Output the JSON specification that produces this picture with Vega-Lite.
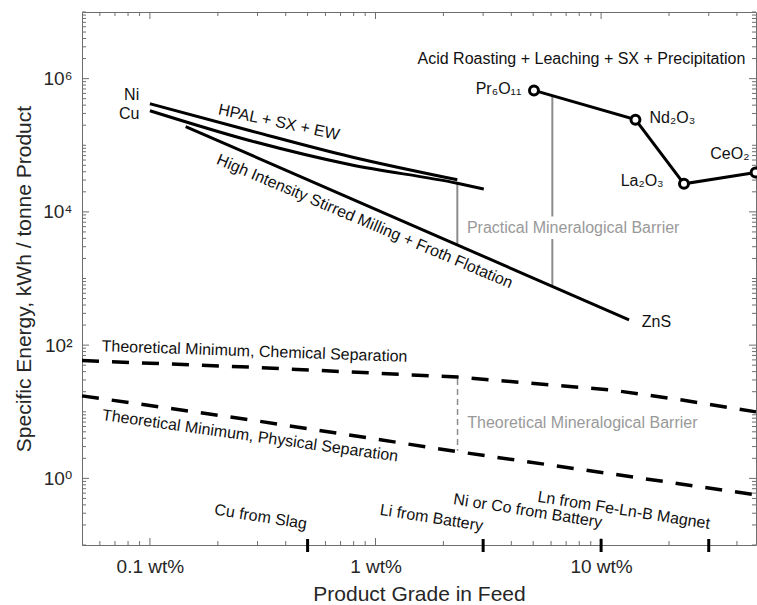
{
  "$schema": "https://vega.github.io/schema/vega-lite/v6.json",
  "width": 674,
  "height": 533,
  "autosize": {"type": "none"},
  "padding": {"left": 82, "top": 12, "right": 1, "bottom": 60},
  "background": "white",
  "config": {
    "font": "Liberation Sans",
    "view": {"stroke": null},
    "axis": {
      "domainColor": "#6e6e6e",
      "labelColor": "#262626",
      "titleColor": "#262626",
      "labelFont": "Liberation Sans, DejaVu Sans",
      "titleFont": "Liberation Sans",
      "labelFontSize": 19,
      "titleFontSize": 21,
      "titleFontWeight": "normal",
      "grid": false,
      "ticks": false,
      "labelOverlap": false,
      "labelFlush": false
    }
  },
  "datasets": {
    "curves": [
      {"s": "Ni", "x": 0.1, "y": 420000},
      {"s": "Ni", "x": 0.279, "y": 165000},
      {"s": "Ni", "x": 0.776, "y": 67200},
      {"s": "Ni", "x": 2.305, "y": 30300},
      {"s": "Cu", "x": 0.1, "y": 330000},
      {"s": "Cu", "x": 0.279, "y": 117000},
      {"s": "Cu", "x": 0.776, "y": 50900},
      {"s": "Cu", "x": 2.305, "y": 26900},
      {"s": "Cu", "x": 3.02, "y": 22000}
    ],
    "solid": [
      {"s": "Mill", "x": 0.144, "y": 191000},
      {"s": "Mill", "x": 13.3, "y": 240},
      {"s": "REE", "x": 5.04, "y": 665000},
      {"s": "REE", "x": 14.2, "y": 242000},
      {"s": "REE", "x": 23.3, "y": 26400},
      {"s": "REE", "x": 48.4, "y": 39100}
    ],
    "pts": [
      {"s": "Pr6O11", "x": 5.04, "y": 665000},
      {"s": "Nd2O3", "x": 14.2, "y": 242000},
      {"s": "La2O3", "x": 23.3, "y": 26400},
      {"s": "CeO2", "x": 48.4, "y": 39100}
    ],
    "dashed": [
      {"s": "chem", "x": 0.05, "y": 58.7},
      {"s": "chem", "x": 0.279, "y": 46.7},
      {"s": "chem", "x": 2.31, "y": 33.1},
      {"s": "chem", "x": 11.0, "y": 21.3},
      {"s": "chem", "x": 22.5, "y": 15.1},
      {"s": "chem", "x": 48.6, "y": 9.95},
      {"s": "phys", "x": 0.05, "y": 17.3},
      {"s": "phys", "x": 0.279, "y": 7.55},
      {"s": "phys", "x": 2.31, "y": 2.52},
      {"s": "phys", "x": 10.5, "y": 1.2},
      {"s": "phys", "x": 48.6, "y": 0.565}
    ],
    "grules": [
      {"x": 2.305, "y": 26900, "y2": 3180},
      {"x": 6.08, "y": 553000, "y2": 8530},
      {"x": 6.08, "y": 3910, "y2": 760}
    ],
    "drules": [
      {"x": 2.31, "y": 31, "y2": 2.6}
    ],
    "cats": [
      {"x": 0.5, "y": 0.123, "y2": 0.0785},
      {"x": 3, "y": 0.123, "y2": 0.0785},
      {"x": 10, "y": 0.123, "y2": 0.0785},
      {"x": 30, "y": 0.123, "y2": 0.0785}
    ],
    "xticks": [
      {"x": 0.1, "y": 0.1, "g": "M"}, {"x": 1, "y": 0.1, "g": "M"}, {"x": 10, "y": 0.1, "g": "M"},
      {"x": 0.06, "y": 0.1, "g": "m"}, {"x": 0.07, "y": 0.1, "g": "m"}, {"x": 0.08, "y": 0.1, "g": "m"}, {"x": 0.09, "y": 0.1, "g": "m"},
      {"x": 0.2, "y": 0.1, "g": "m"}, {"x": 0.3, "y": 0.1, "g": "m"}, {"x": 0.4, "y": 0.1, "g": "m"}, {"x": 0.5, "y": 0.1, "g": "m"},
      {"x": 0.6, "y": 0.1, "g": "m"}, {"x": 0.7, "y": 0.1, "g": "m"}, {"x": 0.8, "y": 0.1, "g": "m"}, {"x": 0.9, "y": 0.1, "g": "m"},
      {"x": 2, "y": 0.1, "g": "m"}, {"x": 3, "y": 0.1, "g": "m"}, {"x": 4, "y": 0.1, "g": "m"}, {"x": 5, "y": 0.1, "g": "m"},
      {"x": 6, "y": 0.1, "g": "m"}, {"x": 7, "y": 0.1, "g": "m"}, {"x": 8, "y": 0.1, "g": "m"}, {"x": 9, "y": 0.1, "g": "m"},
      {"x": 20, "y": 0.1, "g": "m"}, {"x": 30, "y": 0.1, "g": "m"}, {"x": 40, "y": 0.1, "g": "m"},
      {"x": 0.1, "y": 10000000, "g": "M"}, {"x": 1, "y": 10000000, "g": "M"}, {"x": 10, "y": 10000000, "g": "M"},
      {"x": 0.06, "y": 10000000, "g": "m"}, {"x": 0.07, "y": 10000000, "g": "m"}, {"x": 0.08, "y": 10000000, "g": "m"}, {"x": 0.09, "y": 10000000, "g": "m"},
      {"x": 0.2, "y": 10000000, "g": "m"}, {"x": 0.3, "y": 10000000, "g": "m"}, {"x": 0.4, "y": 10000000, "g": "m"}, {"x": 0.5, "y": 10000000, "g": "m"},
      {"x": 0.6, "y": 10000000, "g": "m"}, {"x": 0.7, "y": 10000000, "g": "m"}, {"x": 0.8, "y": 10000000, "g": "m"}, {"x": 0.9, "y": 10000000, "g": "m"},
      {"x": 2, "y": 10000000, "g": "m"}, {"x": 3, "y": 10000000, "g": "m"}, {"x": 4, "y": 10000000, "g": "m"}, {"x": 5, "y": 10000000, "g": "m"},
      {"x": 6, "y": 10000000, "g": "m"}, {"x": 7, "y": 10000000, "g": "m"}, {"x": 8, "y": 10000000, "g": "m"}, {"x": 9, "y": 10000000, "g": "m"},
      {"x": 20, "y": 10000000, "g": "m"}, {"x": 30, "y": 10000000, "g": "m"}, {"x": 40, "y": 10000000, "g": "m"}
    ],
    "yticks": [
      {"x": 0.05, "y": 1, "g": "M"}, {"x": 0.05, "y": 100, "g": "M"}, {"x": 0.05, "y": 10000, "g": "M"}, {"x": 0.05, "y": 1000000, "g": "M"},
      {"x": 0.05, "y": 0.1, "g": "m"}, {"x": 0.05, "y": 0.2, "g": "m"}, {"x": 0.05, "y": 0.3, "g": "m"}, {"x": 0.05, "y": 0.4, "g": "m"}, {"x": 0.05, "y": 0.5, "g": "m"}, {"x": 0.05, "y": 0.6, "g": "m"}, {"x": 0.05, "y": 0.7, "g": "m"}, {"x": 0.05, "y": 0.8, "g": "m"}, {"x": 0.05, "y": 0.9, "g": "m"},
      {"x": 0.05, "y": 2, "g": "m"}, {"x": 0.05, "y": 3, "g": "m"}, {"x": 0.05, "y": 4, "g": "m"}, {"x": 0.05, "y": 5, "g": "m"}, {"x": 0.05, "y": 6, "g": "m"}, {"x": 0.05, "y": 7, "g": "m"}, {"x": 0.05, "y": 8, "g": "m"}, {"x": 0.05, "y": 9, "g": "m"},
      {"x": 0.05, "y": 10, "g": "m"}, {"x": 0.05, "y": 20, "g": "m"}, {"x": 0.05, "y": 30, "g": "m"}, {"x": 0.05, "y": 40, "g": "m"}, {"x": 0.05, "y": 50, "g": "m"}, {"x": 0.05, "y": 60, "g": "m"}, {"x": 0.05, "y": 70, "g": "m"}, {"x": 0.05, "y": 80, "g": "m"}, {"x": 0.05, "y": 90, "g": "m"},
      {"x": 0.05, "y": 200, "g": "m"}, {"x": 0.05, "y": 300, "g": "m"}, {"x": 0.05, "y": 400, "g": "m"}, {"x": 0.05, "y": 500, "g": "m"}, {"x": 0.05, "y": 600, "g": "m"}, {"x": 0.05, "y": 700, "g": "m"}, {"x": 0.05, "y": 800, "g": "m"}, {"x": 0.05, "y": 900, "g": "m"},
      {"x": 0.05, "y": 1000, "g": "m"}, {"x": 0.05, "y": 2000, "g": "m"}, {"x": 0.05, "y": 3000, "g": "m"}, {"x": 0.05, "y": 4000, "g": "m"}, {"x": 0.05, "y": 5000, "g": "m"}, {"x": 0.05, "y": 6000, "g": "m"}, {"x": 0.05, "y": 7000, "g": "m"}, {"x": 0.05, "y": 8000, "g": "m"}, {"x": 0.05, "y": 9000, "g": "m"},
      {"x": 0.05, "y": 20000, "g": "m"}, {"x": 0.05, "y": 30000, "g": "m"}, {"x": 0.05, "y": 40000, "g": "m"}, {"x": 0.05, "y": 50000, "g": "m"}, {"x": 0.05, "y": 60000, "g": "m"}, {"x": 0.05, "y": 70000, "g": "m"}, {"x": 0.05, "y": 80000, "g": "m"}, {"x": 0.05, "y": 90000, "g": "m"},
      {"x": 0.05, "y": 100000, "g": "m"}, {"x": 0.05, "y": 200000, "g": "m"}, {"x": 0.05, "y": 300000, "g": "m"}, {"x": 0.05, "y": 400000, "g": "m"}, {"x": 0.05, "y": 500000, "g": "m"}, {"x": 0.05, "y": 600000, "g": "m"}, {"x": 0.05, "y": 700000, "g": "m"}, {"x": 0.05, "y": 800000, "g": "m"}, {"x": 0.05, "y": 900000, "g": "m"},
      {"x": 0.05, "y": 2000000, "g": "m"}, {"x": 0.05, "y": 3000000, "g": "m"}, {"x": 0.05, "y": 4000000, "g": "m"}, {"x": 0.05, "y": 5000000, "g": "m"}, {"x": 0.05, "y": 6000000, "g": "m"}, {"x": 0.05, "y": 7000000, "g": "m"}, {"x": 0.05, "y": 8000000, "g": "m"}, {"x": 0.05, "y": 9000000, "g": "m"}, {"x": 0.05, "y": 10000000, "g": "m"},
      {"x": 48.6, "y": 1, "g": "M"}, {"x": 48.6, "y": 100, "g": "M"}, {"x": 48.6, "y": 10000, "g": "M"}, {"x": 48.6, "y": 1000000, "g": "M"},
      {"x": 48.6, "y": 0.1, "g": "m"}, {"x": 48.6, "y": 0.2, "g": "m"}, {"x": 48.6, "y": 0.3, "g": "m"}, {"x": 48.6, "y": 0.4, "g": "m"}, {"x": 48.6, "y": 0.5, "g": "m"}, {"x": 48.6, "y": 0.6, "g": "m"}, {"x": 48.6, "y": 0.7, "g": "m"}, {"x": 48.6, "y": 0.8, "g": "m"}, {"x": 48.6, "y": 0.9, "g": "m"},
      {"x": 48.6, "y": 2, "g": "m"}, {"x": 48.6, "y": 3, "g": "m"}, {"x": 48.6, "y": 4, "g": "m"}, {"x": 48.6, "y": 5, "g": "m"}, {"x": 48.6, "y": 6, "g": "m"}, {"x": 48.6, "y": 7, "g": "m"}, {"x": 48.6, "y": 8, "g": "m"}, {"x": 48.6, "y": 9, "g": "m"},
      {"x": 48.6, "y": 10, "g": "m"}, {"x": 48.6, "y": 20, "g": "m"}, {"x": 48.6, "y": 30, "g": "m"}, {"x": 48.6, "y": 40, "g": "m"}, {"x": 48.6, "y": 50, "g": "m"}, {"x": 48.6, "y": 60, "g": "m"}, {"x": 48.6, "y": 70, "g": "m"}, {"x": 48.6, "y": 80, "g": "m"}, {"x": 48.6, "y": 90, "g": "m"},
      {"x": 48.6, "y": 200, "g": "m"}, {"x": 48.6, "y": 300, "g": "m"}, {"x": 48.6, "y": 400, "g": "m"}, {"x": 48.6, "y": 500, "g": "m"}, {"x": 48.6, "y": 600, "g": "m"}, {"x": 48.6, "y": 700, "g": "m"}, {"x": 48.6, "y": 800, "g": "m"}, {"x": 48.6, "y": 900, "g": "m"},
      {"x": 48.6, "y": 1000, "g": "m"}, {"x": 48.6, "y": 2000, "g": "m"}, {"x": 48.6, "y": 3000, "g": "m"}, {"x": 48.6, "y": 4000, "g": "m"}, {"x": 48.6, "y": 5000, "g": "m"}, {"x": 48.6, "y": 6000, "g": "m"}, {"x": 48.6, "y": 7000, "g": "m"}, {"x": 48.6, "y": 8000, "g": "m"}, {"x": 48.6, "y": 9000, "g": "m"},
      {"x": 48.6, "y": 20000, "g": "m"}, {"x": 48.6, "y": 30000, "g": "m"}, {"x": 48.6, "y": 40000, "g": "m"}, {"x": 48.6, "y": 50000, "g": "m"}, {"x": 48.6, "y": 60000, "g": "m"}, {"x": 48.6, "y": 70000, "g": "m"}, {"x": 48.6, "y": 80000, "g": "m"}, {"x": 48.6, "y": 90000, "g": "m"},
      {"x": 48.6, "y": 100000, "g": "m"}, {"x": 48.6, "y": 200000, "g": "m"}, {"x": 48.6, "y": 300000, "g": "m"}, {"x": 48.6, "y": 400000, "g": "m"}, {"x": 48.6, "y": 500000, "g": "m"}, {"x": 48.6, "y": 600000, "g": "m"}, {"x": 48.6, "y": 700000, "g": "m"}, {"x": 48.6, "y": 800000, "g": "m"}, {"x": 48.6, "y": 900000, "g": "m"},
      {"x": 48.6, "y": 2000000, "g": "m"}, {"x": 48.6, "y": 3000000, "g": "m"}, {"x": 48.6, "y": 4000000, "g": "m"}, {"x": 48.6, "y": 5000000, "g": "m"}, {"x": 48.6, "y": 6000000, "g": "m"}, {"x": 48.6, "y": 7000000, "g": "m"}, {"x": 48.6, "y": 8000000, "g": "m"}, {"x": 48.6, "y": 9000000, "g": "m"}, {"x": 48.6, "y": 10000000, "g": "m"}
    ],
    "htext": [
      {"t": "Ni", "x": 0.083, "y": 573000},
      {"t": "Cu", "x": 0.0809, "y": 297000},
      {"t": "ZnS", "x": 17.6, "y": 226},
      {"t": "Acid Roasting + Leaching + SX + Precipitation", "x": 8.18, "y": 1970000},
      {"t": "Pr₆O₁₁", "x": 3.51, "y": 705000},
      {"t": "Nd₂O₃", "x": 20.7, "y": 256000},
      {"t": "La₂O₃", "x": 15.2, "y": 28600},
      {"t": "CeO₂", "x": 37.2, "y": 74500}
    ],
    "gtext": [
      {"t": "Practical Mineralogical Barrier", "x": 7.52, "y": 5710},
      {"t": "Theoretical Mineralogical Barrier", "x": 8.26, "y": 6.74}
    ],
    "cattext": [
      {"t": "Cu from Slag", "x": 0.31, "y": 0.264},
      {"t": "Li from Battery", "x": 1.77, "y": 0.255},
      {"t": "Ni or Co from Battery", "x": 4.73, "y": 0.325},
      {"t": "Ln from Fe-Ln-B Magnet", "x": 12.6, "y": 0.331}
    ]
  },
  "encoding": {
    "x": {"field": "x", "type": "quantitative", "scale": {"type": "log", "domain": [0.05, 48.6], "nice": false}, "axis": null},
    "y": {"field": "y", "type": "quantitative", "scale": {"type": "log", "domain": [0.1, 10000000], "nice": false}, "axis": null}
  },
  "layer": [
    {
      "data": {"name": "pts"},
      "mark": {"type": "point", "opacity": 0},
      "encoding": {
        "x": {"field": "x", "type": "quantitative", "scale": {"type": "log", "domain": [0.05, 48.6], "nice": false},
          "axis": {"orient": "bottom", "values": [0.1, 1, 10], "ticks": false, "labelPadding": 12,
            "labelExpr": "datum.value == 0.1 ? '0.1 wt%' : datum.value == 1 ? '1 wt%' : '10 wt%'",
            "title": "Product Grade in Feed", "titlePadding": 7}},
        "y": {"field": "y", "type": "quantitative", "scale": {"type": "log", "domain": [0.1, 10000000], "nice": false},
          "axis": {"orient": "left", "values": [1, 100, 10000, 1000000], "ticks": false, "labelPadding": 10,
            "labelExpr": "datum.value == 1 ? '10⁰' : datum.value == 100 ? '10²' : datum.value == 10000 ? '10⁴' : '10⁶'",
            "title": "Specific Energy, kWh / tonne Product", "titlePadding": 8}}
      }
    },
    {
      "data": {"name": "pts"},
      "mark": {"type": "point", "opacity": 0},
      "encoding": {
        "x": {"field": "x", "type": "quantitative", "scale": {"type": "log", "domain": [0.05, 48.6], "nice": false},
          "axis": {"orient": "top", "values": [0.1, 1, 10], "ticks": false, "labels": false, "domain": true, "title": null}},
        "y": {"field": "y", "type": "quantitative", "scale": {"type": "log", "domain": [0.1, 10000000], "nice": false},
          "axis": {"orient": "right", "values": [1, 100, 10000, 1000000], "ticks": false, "labels": false, "domain": true, "title": null}}
      }
    },
    {
      "data": {"name": "xticks"},
      "transform": [{"filter": "datum.y < 1 && datum.g == 'M'"}],
      "mark": {"type": "rule", "strokeWidth": 1, "y2Offset": -7, "color": "#6e6e6e"},
      "encoding": {"y2": {"field": "y"}}
    },
    {
      "data": {"name": "xticks"},
      "transform": [{"filter": "datum.y < 1 && datum.g == 'm'"}],
      "mark": {"type": "rule", "strokeWidth": 1, "y2Offset": -4, "color": "#6e6e6e"},
      "encoding": {"y2": {"field": "y"}}
    },
    {
      "data": {"name": "xticks"},
      "transform": [{"filter": "datum.y > 1 && datum.g == 'M'"}],
      "mark": {"type": "rule", "strokeWidth": 1, "y2Offset": 7, "color": "#6e6e6e"},
      "encoding": {"y2": {"field": "y"}}
    },
    {
      "data": {"name": "xticks"},
      "transform": [{"filter": "datum.y > 1 && datum.g == 'm'"}],
      "mark": {"type": "rule", "strokeWidth": 1, "y2Offset": 4, "color": "#6e6e6e"},
      "encoding": {"y2": {"field": "y"}}
    },
    {
      "data": {"name": "yticks"},
      "transform": [{"filter": "datum.x < 1 && datum.g == 'M'"}],
      "mark": {"type": "rule", "strokeWidth": 1, "x2Offset": 7, "color": "#6e6e6e"},
      "encoding": {"x2": {"field": "x"}}
    },
    {
      "data": {"name": "yticks"},
      "transform": [{"filter": "datum.x < 1 && datum.g == 'm'"}],
      "mark": {"type": "rule", "strokeWidth": 1, "x2Offset": 4, "color": "#6e6e6e"},
      "encoding": {"x2": {"field": "x"}}
    },
    {
      "data": {"name": "yticks"},
      "transform": [{"filter": "datum.x > 1 && datum.g == 'M'"}],
      "mark": {"type": "rule", "strokeWidth": 1, "x2Offset": -7, "color": "#6e6e6e"},
      "encoding": {"x2": {"field": "x"}}
    },
    {
      "data": {"name": "yticks"},
      "transform": [{"filter": "datum.x > 1 && datum.g == 'm'"}],
      "mark": {"type": "rule", "strokeWidth": 1, "x2Offset": -4, "color": "#6e6e6e"},
      "encoding": {"x2": {"field": "x"}}
    },
    {
      "data": {"name": "grules"},
      "mark": {"type": "rule", "color": "#8c8c8c", "strokeWidth": 2},
      "encoding": {"y2": {"field": "y2"}}
    },
    {
      "data": {"name": "drules"},
      "mark": {"type": "rule", "color": "#8c8c8c", "strokeWidth": 1.5, "strokeDash": [6, 4]},
      "encoding": {"y2": {"field": "y2"}}
    },
    {
      "data": {"name": "curves"},
      "mark": {"type": "line", "color": "#000000", "strokeWidth": 3, "strokeCap": "butt", "interpolate": "monotone"},
      "encoding": {"detail": {"field": "s", "type": "nominal"}}
    },
    {
      "data": {"name": "solid"},
      "mark": {"type": "line", "color": "#000000", "strokeWidth": 3, "strokeCap": "butt"},
      "encoding": {"detail": {"field": "s", "type": "nominal"}}
    },
    {
      "data": {"name": "dashed"},
      "mark": {"type": "line", "color": "#000000", "strokeWidth": 3.5, "strokeDash": [17, 13], "strokeCap": "butt"},
      "encoding": {"detail": {"field": "s", "type": "nominal"}}
    },
    {
      "data": {"name": "pts"},
      "mark": {"type": "point", "shape": "circle", "filled": true, "fill": "#ffffff", "stroke": "#000000", "strokeWidth": 3, "size": 80, "opacity": 1, "fillOpacity": 1},
      "encoding": {}
    },
    {
      "data": {"name": "cats"},
      "mark": {"type": "rule", "color": "#000000", "strokeWidth": 3, "clip": false},
      "encoding": {"y2": {"field": "y2"}}
    },
    {
      "data": {"name": "htext"},
      "mark": {"type": "text", "font": "Liberation Sans, DejaVu Sans", "fontSize": 16, "align": "center", "baseline": "middle", "color": "#111111"},
      "encoding": {"text": {"field": "t"}}
    },
    {
      "data": {"name": "gtext"},
      "mark": {"type": "text", "font": "Liberation Sans", "fontSize": 16, "align": "center", "baseline": "middle", "color": "#999999"},
      "encoding": {"text": {"field": "t"}}
    },
    {
      "data": {"name": "cattext"},
      "mark": {"type": "text", "font": "Liberation Sans", "fontSize": 16, "align": "center", "baseline": "middle", "color": "#111111", "angle": 9},
      "encoding": {"text": {"field": "t"}}
    },
    {
      "data": {"values": [{"t": "HPAL + SX + EW", "x": 0.373, "y": 221000}]},
      "mark": {"type": "text", "font": "Liberation Sans", "fontSize": 16, "align": "center", "baseline": "middle", "color": "#111111", "angle": 12},
      "encoding": {"text": {"field": "t"}}
    },
    {
      "data": {"values": [{"t": "High Intensity Stirred Milling + Froth Flotation", "x": 0.895, "y": 7180}]},
      "mark": {"type": "text", "font": "Liberation Sans", "fontSize": 16, "align": "center", "baseline": "middle", "color": "#111111", "angle": 23},
      "encoding": {"text": {"field": "t"}}
    },
    {
      "data": {"values": [{"t": "Theoretical Minimum, Chemical Separation", "x": 0.291, "y": 80.2}]},
      "mark": {"type": "text", "font": "Liberation Sans", "fontSize": 16, "align": "center", "baseline": "middle", "color": "#111111", "angle": 2},
      "encoding": {"text": {"field": "t"}}
    },
    {
      "data": {"values": [{"t": "Theoretical Minimum, Physical Separation", "x": 0.278, "y": 4.35}]},
      "mark": {"type": "text", "font": "Liberation Sans", "fontSize": 16, "align": "center", "baseline": "middle", "color": "#111111", "angle": 8},
      "encoding": {"text": {"field": "t"}}
    }
  ],
  "resolve": {"axis": {"x": "independent", "y": "independent"}}
}
